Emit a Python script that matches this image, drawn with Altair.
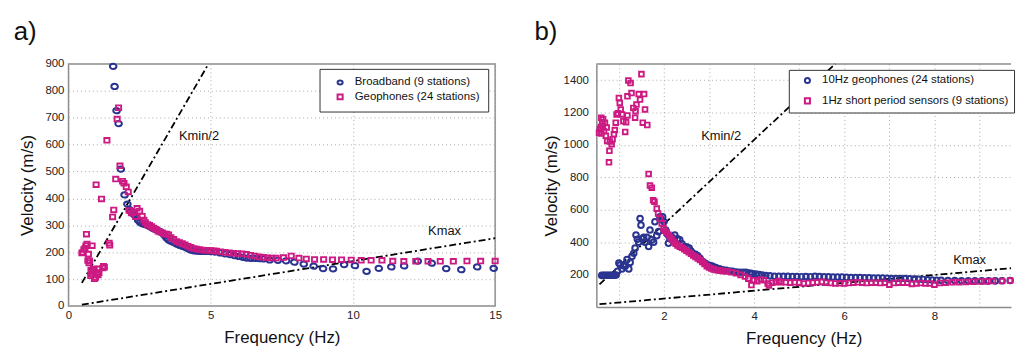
import altair as alt
import pandas as pd

FONT = "Liberation Sans"
NAVY = "#2a3490"
MAG = "#cc1a82"
FRAME = "#8c8c8c"

# ---------------- panel a data ----------------
a_names = ["Broadband (9 stations)", "Geophones (24 stations)"]
a_bb_f = [1.57, 1.62, 1.69, 1.76, 1.84, 1.97, 2.07, 2.15,
          2.2, 2.3, 2.38, 2.45, 2.52, 2.6, 2.68, 2.76, 2.85, 2.93,
          3.0, 3.08, 3.16, 3.23, 3.3, 3.38, 3.45, 3.52, 3.6, 3.7,
          3.8, 3.9, 4.0, 4.1, 4.2, 4.3, 4.4, 4.5, 4.6, 4.7,
          4.8, 4.9, 5.0, 5.15, 5.33, 5.5, 5.67, 5.83, 5.99, 6.13,
          6.26, 6.4, 6.55, 6.7, 6.84, 7.07, 7.36, 7.65, 7.94, 8.27,
          8.62, 8.95, 9.3, 9.69, 10.07, 10.48, 10.91, 11.35, 11.8, 12.28,
          12.77, 13.28, 13.81, 14.37, 14.95]
a_bb_v = [891, 816, 726, 678, 509, 413, 379, 358,
          350, 340, 330, 318, 310, 305, 303, 300, 295, 290,
          287, 284, 280, 276, 270, 262, 252, 245, 240, 236,
          230, 225, 222, 218, 212, 208, 205, 204, 203, 203,
          203, 203, 202, 200, 197, 194, 191, 187, 184, 181,
          178, 177, 177, 176, 175, 171, 170, 168, 163, 156,
          148, 139, 138, 154, 150, 129, 140, 145, 149, 167,
          159, 139, 135, 145, 140]
a_geo_f = [0.47, 0.5, 0.54, 0.58, 0.61, 0.63, 0.65, 0.68, 0.7, 0.72,
           0.74, 0.78, 0.79, 0.83, 0.84, 0.86, 0.9, 0.91, 0.95, 0.97,
           1.0, 1.03, 1.04, 1.07, 1.16, 1.21, 1.23, 1.26, 1.35, 1.43,
           1.45, 1.55, 1.59, 1.66, 1.71, 1.76, 1.81, 1.9, 1.95, 2.03,
           2.1, 2.13, 2.21, 2.3, 2.36, 2.41, 2.5, 2.59, 2.65, 2.7,
           2.78, 2.85, 2.92, 3.0, 3.07, 3.15, 3.22, 3.3, 3.37, 3.45,
           3.52, 3.6, 3.7, 3.8, 3.9, 4.0, 4.1, 4.2, 4.3, 4.4,
           4.5, 4.6, 4.7, 4.8, 4.9, 5.0, 5.1, 5.2, 5.35, 5.5,
           5.65, 5.8, 5.95, 6.1, 6.25, 6.4, 6.55, 6.7, 6.85, 7.0,
           7.15, 7.3, 7.56, 7.83, 8.1, 8.36, 8.65, 8.97, 9.28, 9.6,
           9.94, 10.29, 10.64, 11.02, 11.4, 11.79, 12.21, 12.64, 13.07, 13.53,
           14.01, 14.49, 15.0]
a_geo_v = [197, 199, 210, 215, 224, 267, 230, 169, 193, 160,
           168, 112, 134, 224, 119, 128, 137, 101, 106, 451,
           118, 138, 115, 124, 398, 141, 148, 144, 616, 234,
           226, 331, 357, 472, 695, 737, 521, 464, 456, 443,
           424, 355, 346, 349, 332, 363, 353, 334, 320, 310,
           303, 300, 295, 290, 285, 278, 275, 272, 268, 268,
           265, 255, 248, 240, 236, 232, 228, 222, 218, 214,
           212, 210, 208, 207, 207, 206, 205, 204, 202, 200,
           198, 196, 195, 194, 192, 189, 186, 183, 181, 179,
           178, 178, 180, 186, 178, 175, 173, 173, 172, 172,
           171, 170, 170, 170, 167, 166, 166, 166, 166, 166,
           167, 167, 167]
a_kmin_f = [0.47, 4.92]
a_kmin_v = [86, 900]
a_kmax_f = [0.47, 15.0]
a_kmax_v = [5, 252]
a_lab_t = ["Kmin/2", "Kmax"]
a_lab_f = [4.59, 13.22]
a_lab_v = [630, 279]
a_xticks = [0, 5, 10, 15]
a_yticks = [0, 100, 200, 300, 400, 500, 600, 700, 800, 900]

# ---------------- panel b data ----------------
b_names = ["10Hz geophones (24 stations)", "1Hz short period sensors (9 stations)"]
b_geo_f = [0.62, 0.66, 0.7, 0.74, 0.78, 0.82, 0.86, 0.9, 0.94, 0.97,
           1.0, 1.03, 1.07, 1.1, 1.14, 1.18, 1.22, 1.25, 1.29, 1.33,
           1.36, 1.38, 1.41, 1.44, 1.47, 1.49, 1.52, 1.55, 1.58, 1.62,
           1.66, 1.69, 1.73, 1.77, 1.8, 1.84, 1.88, 1.91, 1.94, 1.97,
           2.0, 2.04, 2.07, 2.1, 2.13, 2.18, 2.24, 2.3, 2.35, 2.4,
           2.46, 2.51, 2.56, 2.6, 2.64, 2.7, 2.75, 2.8, 2.86, 2.92,
           2.97, 3.03, 3.08, 3.15, 3.23, 3.3, 3.38, 3.45, 3.52, 3.6,
           3.67, 3.75, 3.82, 3.9, 3.96, 4.04, 4.11, 4.18, 4.26, 4.35,
           4.45,
           4.55, 4.65, 4.75, 4.85, 4.95, 5.05, 5.15, 5.25, 5.35, 5.45,
           5.55, 5.65, 5.75, 5.85, 5.95, 6.05, 6.15, 6.25, 6.35, 6.45,
           6.55, 6.65, 6.75, 6.85, 6.95, 7.05, 7.15, 7.25, 7.35, 7.45,
           7.55, 7.65, 7.75, 7.85, 7.95, 8.05, 8.15, 8.3, 8.45, 8.6,
           8.75, 8.9, 9.05, 9.2, 9.35, 9.5, 9.68]
b_geo_v = [195, 195, 196, 196, 196, 196, 196, 196, 197, 220,
           271, 260, 235, 255, 251, 292, 235, 275, 312, 332,
           363, 444, 418, 400, 546, 505, 420, 430, 400, 430,
           373, 475, 414, 400, 526, 440, 465, 556, 540, 556,
           526, 475, 450, 393, 424, 430, 444, 420, 414, 390,
           373, 370, 363, 345, 332, 325, 316, 300, 281, 270,
           261, 256, 251, 243, 235, 230, 226, 222, 220, 216,
           214, 214, 214, 210, 206, 203, 200, 197, 194, 192,
           190,
           190, 189, 189, 188, 188, 187, 188, 187, 190, 188,
           186, 186, 185, 185, 184, 183, 182, 181, 181, 180,
           180, 179, 178, 178, 177, 176, 176, 175, 175, 174,
           173, 171, 170, 168, 166, 165, 164, 163, 163, 162,
           162, 161, 161, 161, 161, 162, 163]
b_sp_f = [0.56, 0.58, 0.6, 0.61, 0.61, 0.63, 0.64, 0.65, 0.67, 0.69,
          0.71, 0.73, 0.74, 0.78, 0.79, 0.8, 0.84, 0.86, 0.89, 0.91,
          0.93, 0.95, 0.98, 1.0, 1.02, 1.04, 1.07, 1.1, 1.14, 1.16,
          1.19, 1.19, 1.21, 1.26, 1.28, 1.32, 1.36, 1.37, 1.39, 1.44,
          1.47, 1.5, 1.53, 1.56, 1.58, 1.63, 1.66, 1.69, 1.73, 1.76,
          1.79, 1.84, 1.87, 1.91, 1.95, 1.99, 2.02, 2.06, 2.1, 2.14,
          2.18, 2.22, 2.26, 2.3, 2.35, 2.4, 2.45, 2.5, 2.55, 2.6,
          2.65, 2.7, 2.75, 2.8, 2.85, 2.9, 2.95, 3.0, 3.05, 3.1,
          3.15, 3.2, 3.25, 3.3, 3.35, 3.4, 3.5, 3.6, 3.7, 3.8,
          3.87, 3.94, 4.0, 4.07, 4.15, 4.22, 4.3, 4.33, 4.4, 4.48,
          4.55,
          4.6, 4.7, 4.8, 4.9, 5.0, 5.1, 5.2, 5.3, 5.4, 5.5,
          5.6, 5.7, 5.8, 5.9, 6.0, 6.1, 6.2, 6.3, 6.4, 6.5,
          6.6, 6.7, 6.8, 6.9, 7.0, 7.1, 7.2, 7.3, 7.4, 7.5,
          7.6, 7.7, 7.8, 7.9, 8.0, 8.12, 8.25, 8.4, 8.55, 8.7,
          8.85, 9.0, 9.15, 9.3, 9.5, 9.68]
b_sp_v = [1076, 1096, 1110, 1168, 1070, 1140, 1117, 1158, 1086, 1137,
          1056, 1107, 1025, 893, 964, 1021, 1005, 1035, 1066, 1092,
          1137, 1188, 1195, 1290, 1259, 1219, 1188, 1147, 1080, 1140,
          1182, 1300, 1398, 1382, 1320, 1228, 1168, 1208, 1249, 1314,
          1280, 1437, 1137, 1314, 1219, 1123, 821, 750, 736, 658,
          650, 607, 577, 546, 516, 486, 470, 460, 445, 430,
          415, 400, 390, 380, 372, 365, 356, 347, 338, 328,
          318, 308, 300, 290, 278, 265, 252, 243, 237, 232,
          228, 226, 224, 222, 221, 220, 214, 208, 198, 188,
          175, 135, 165, 159, 170, 165, 145, 133, 150, 153,
          160,
          153, 152, 150, 152, 150, 145, 148, 150, 152, 155,
          150, 148, 145, 146, 145, 148, 150, 152, 150, 148,
          150, 150, 148, 150, 138, 148, 150, 150, 150, 142,
          145, 148, 145, 145, 138, 148, 150, 152, 152, 154,
          156, 157, 158, 160, 160, 163]
b_kmin_f = [0.57, 5.8]
b_kmin_v = [139, 1500]
b_kmax_f = [0.57, 9.7]
b_kmax_v = [17, 239]
b_lab_t = ["Kmin/2", "Kmax"]
b_lab_f = [3.27, 8.78]
b_lab_v = [1056, 292]
b_xgrid = [1, 2, 3, 4, 5, 6, 7, 8, 9]
b_yticks = [200, 400, 600, 800, 1000, 1200, 1400]

ELLIPSE = "M-1,0A1,0.8,0,1,1,1,0A1,0.8,0,1,1,-1,0Z"
FLATSQ = "M-1,-0.9L1,-0.9L1,0.9L-1,0.9Z"
DASHDOT = [7, 3, 2, 3]


def sdf(f, v, name):
    return pd.DataFrame({"f": f, "v": v, "s": name})


def line_df(f1, v1, f2, v2):
    return pd.DataFrame({"f": f1 + f2, "v": v1 + v2,
                         "k": ["Kmin/2"] * len(f1) + ["Kmax"] * len(f2)})


def make_legend(x, y, pad, symoff, rowpad):
    return alt.Legend(title=None, orient="none", legendX=x, legendY=y,
                      padding=pad, symbolOffset=symoff, rowPadding=rowpad,
                      labelOffset=9, labelFont=FONT, labelFontSize=11.5,
                      labelColor="#111", symbolSize=26, symbolStrokeWidth=2,
                      strokeColor="#333", fillColor="white", labelLimit=400)


# ---------------- panel a ----------------
xa = alt.X("f:Q", scale=alt.Scale(domain=[0, 15], nice=False, zero=False),
           axis=alt.Axis(values=a_xticks, title="Frequency (Hz)", labelPadding=4,
                         titlePadding=8, labelFlush=False, format="d"))
ya = alt.Y("v:Q", scale=alt.Scale(domain=[0, 900], nice=False),
           axis=alt.Axis(values=a_yticks, title="Velocity (m/s)", labelPadding=4.6,
                         titlePadding=9, labelFlush=False, format="d"))
leg_a = make_legend(253, 5, 8, 7, 1.5)
ca = alt.Color("s:N", scale=alt.Scale(domain=a_names, range=[NAVY, MAG]), legend=leg_a)
sa = alt.Shape("s:N", scale=alt.Scale(domain=a_names, range=[ELLIPSE, FLATSQ]), legend=leg_a)

a_lines = alt.Chart(line_df(a_kmin_f, a_kmin_v, a_kmax_f, a_kmax_v)).mark_line(
    color="black", strokeWidth=1.8, strokeDash=DASHDOT).encode(x=xa, y=ya, detail="k:N")
a_p1 = alt.Chart(sdf(a_bb_f, a_bb_v, a_names[0])).mark_point(
    filled=False, size=44, strokeWidth=2, opacity=1).encode(x=xa, y=ya, color=ca, shape=sa)
a_p2 = alt.Chart(sdf(a_geo_f, a_geo_v, a_names[1])).mark_point(
    filled=False, size=27, strokeWidth=1.9, opacity=1).encode(x=xa, y=ya, color=ca, shape=sa)
a_txt = alt.Chart(pd.DataFrame({"f": a_lab_f, "v": a_lab_v, "t": a_lab_t})).mark_text(
    font=FONT, fontSize=13, color="#111").encode(x=xa, y=ya, text="t:N")
a_letter = alt.Chart(pd.DataFrame({"t": ["a)"]})).mark_text(
    font=FONT, fontSize=26, align="left", baseline="alphabetic", color="#111").encode(
    x=alt.value(-55.3), y=alt.value(-24), text="t:N")

panel_a = alt.layer(a_lines, a_p1, a_p2, a_txt, a_letter).properties(
    width=430, height=244, view=alt.ViewBackground(stroke=FRAME, strokeWidth=1.5))

# ---------------- panel b ----------------
xb = alt.X("f:Q", scale=alt.Scale(domain=[0.5, 9.7], nice=False, zero=False),
           axis=alt.Axis(values=b_xgrid, labelExpr="datum.value % 2 == 0 ? datum.label : ''",
                         title="Frequency (Hz)", labelPadding=4, titlePadding=8,
                         labelFlush=False, domain=True, domainColor=FRAME, domainWidth=1.5))
yb = alt.Y("v:Q", scale=alt.Scale(domain=[0, 1500], nice=False),
           axis=alt.Axis(values=b_yticks, title="Velocity (m/s)", labelPadding=8,
                         titlePadding=3, labelFlush=False, domain=True, domainColor=FRAME,
                         domainWidth=1.5, format="d"))
leg_b = make_legend(194, 6, 5, 8, 6.5)
cb = alt.Color("s:N", scale=alt.Scale(domain=b_names, range=[NAVY, MAG]), legend=leg_b)
sb = alt.Shape("s:N", scale=alt.Scale(domain=b_names, range=["circle", "square"]), legend=leg_b)

b_lines = alt.Chart(line_df(b_kmin_f, b_kmin_v, b_kmax_f, b_kmax_v)).mark_line(
    color="black", strokeWidth=1.8, strokeDash=DASHDOT).encode(x=xb, y=yb, detail="k:N")
b_p1 = alt.Chart(sdf(b_geo_f, b_geo_v, b_names[0])).mark_point(
    filled=False, size=32, strokeWidth=2, opacity=1).encode(x=xb, y=yb, color=cb, shape=sb)
b_p2 = alt.Chart(sdf(b_sp_f, b_sp_v, b_names[1])).mark_point(
    filled=False, size=22, strokeWidth=1.9, opacity=1).encode(x=xb, y=yb, color=cb, shape=sb)
b_txt = alt.Chart(pd.DataFrame({"f": b_lab_f, "v": b_lab_v, "t": b_lab_t})).mark_text(
    font=FONT, fontSize=13, color="#111").encode(x=xb, y=yb, text="t:N")
b_letter = alt.Chart(pd.DataFrame({"t": ["b)"]})).mark_text(
    font=FONT, fontSize=26, align="left", baseline="alphabetic", color="#111").encode(
    x=alt.value(-62.3), y=alt.value(-24), text="t:N")
b_top = alt.Chart(pd.DataFrame({"z": [0]})).mark_rule(color=FRAME, strokeWidth=1.5).encode(
    x=alt.value(0), x2=alt.value(418), y=alt.value(0))

panel_b = alt.layer(b_top, b_lines, b_p1, b_p2, b_txt, b_letter).properties(width=418, height=245)

chart = alt.hconcat(panel_a, panel_b, spacing=102, bounds="flush").resolve_scale(
    color="independent", shape="independent").properties(
    padding={"left": 4, "top": 9, "right": 0, "bottom": 0}
).configure_view(stroke="transparent").configure_axis(
    labelFont=FONT, labelFontSize=11.5, labelColor="#222",
    titleFont=FONT, titleFontSize=17, titleFontWeight="normal", titleColor="#111",
    grid=True, gridColor="#aaaaaa", gridDash=[1, 3], gridWidth=1, gridOpacity=1,
    ticks=False, domain=False)

chart.save("out.html", embed_options={"renderer": "svg", "actions": False})
